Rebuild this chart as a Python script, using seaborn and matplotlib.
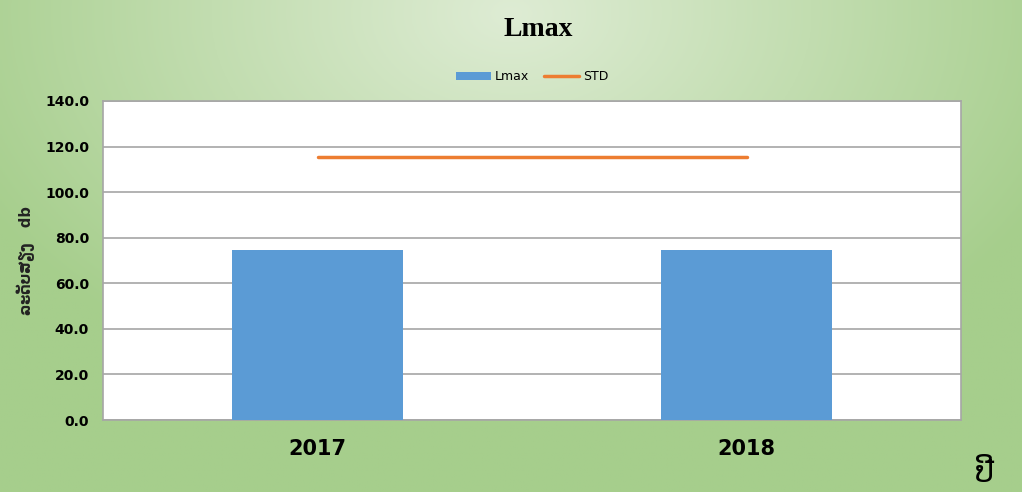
import numpy as np
import pandas as pd
import seaborn as sns
import matplotlib.pyplot as plt

years = ['2017', '2018']
lmax = [74.6, 74.6]
std = [115.5, 115.5]
yticks = [0, 20, 40, 60, 80, 100, 120, 140]

df = pd.DataFrame({'year': years, 'Lmax': lmax, 'STD': std})

sns.set_style('white')
plt.rcParams['font.family'] = ['DejaVu Sans']
plt.rcParams['text.color'] = 'black'
plt.rcParams['xtick.color'] = 'black'
plt.rcParams['ytick.color'] = 'black'

fig = plt.figure(figsize=(10.22, 4.92), dpi=100)

# green gradient background, lighter towards top centre
bg = fig.add_axes([0, 0, 1, 1])
yy, xx = np.mgrid[-1:1:200j, -1:1:400j]
r = np.clip(np.sqrt((xx * 0.85) ** 2 + ((yy - 0.95) * 0.6) ** 2), 0, 1)
inner = np.array([222, 236, 212]) / 255
outer = np.array([166, 206, 140]) / 255
img = inner[None, None, :] * (1 - r[..., None]) + outer[None, None, :] * r[..., None]
bg.imshow(img, aspect='auto', extent=[0, 1, 0, 1], origin='lower')
bg.axis('off')

ax = fig.add_axes([103 / 1022, 72 / 492, 858 / 1022, 319 / 492])
ax.set_facecolor('white')
sns.barplot(data=df, x='year', y='Lmax', color='#5b9bd5', width=0.4,
            saturation=1, ax=ax, label='Lmax', zorder=3, edgecolor='none')
sns.lineplot(data=df, x='year', y='STD', color='#ed7d31', linewidth=2.5,
             ax=ax, label='STD', zorder=4)

ax.set_ylim(0, 140)
ax.set_xlim(-0.5, 1.5)
ax.set_yticks(yticks)
ax.set_yticklabels([f'{v:.1f}' for v in yticks], fontsize=10, fontweight='bold')
ax.tick_params(axis='x', labelsize=15, length=0, pad=14)
for t in ax.get_xticklabels():
    t.set_fontweight('bold')
ax.tick_params(axis='y', length=0, pad=10)
ax.grid(axis='y', color='#a6a6a6', linewidth=1.2, zorder=0)
for s in ax.spines.values():
    s.set_color('#a6a6a6')
    s.set_linewidth(1.2)

ax.set_xlabel('')
ax.set_ylabel('ລະດັບສຽງ   db', fontsize=10.5, fontweight='bold', color='#222222')
ax.yaxis.set_label_coords(-68 / 858, 0.5)
fig.text(985 / 1022, 18 / 492, 'ປີ', fontsize=22, ha='center', va='center')

fig.text(538 / 1022, 462 / 492, 'Lmax', fontsize=20, fontweight='bold',
         family='Liberation Serif', color='black', ha='center', va='center')

handles, labels = ax.get_legend_handles_labels()
order = [labels.index('Lmax'), labels.index('STD')]
ax.legend([handles[i] for i in order], [labels[i] for i in order],
          loc='lower center', bbox_to_anchor=(0.5, 1.02), ncol=2, frameon=False,
          fontsize=9, handlelength=2.8, columnspacing=1.2, handletextpad=0.3)

fig.savefig('out.png', dpi=100)
